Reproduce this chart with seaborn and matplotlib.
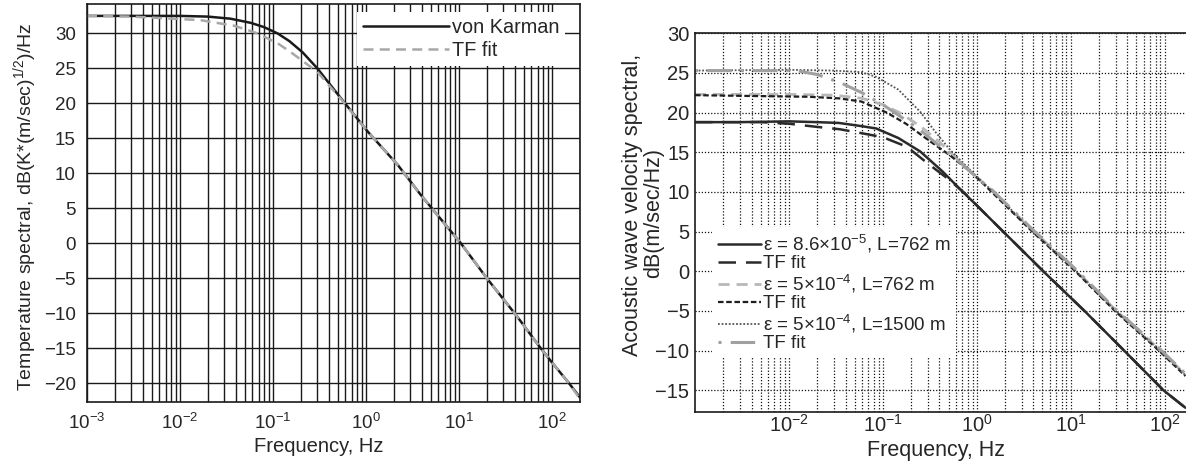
import numpy as np
import pandas as pd
import matplotlib
matplotlib.use("Agg")
import matplotlib.pyplot as plt
from matplotlib.ticker import LogLocator, FixedLocator, NullFormatter, LogFormatterSciNotation
import seaborn as sns

# ---------------- data ----------------
# Left panel: temperature spectrum
freq_left_vk = [0.001, 0.003, 0.01, 0.02, 0.035, 0.058, 0.08, 0.112, 0.15, 0.208, 0.3,
                0.54, 1.04, 2.2, 3.9, 10.5, 20, 42, 74, 100, 151, 200]
von_karman = [32.5, 32.5, 32.5, 32.4, 32.1, 31.5, 30.9, 30.0, 28.9, 27.3, 25.0,
              20.7, 16.0, 11.2, 6.9, 0.0, -5.0, -10.4, -14.8, -17.0, -19.9, -22.0]
freq_left_tf = [0.001, 0.003, 0.006, 0.0165, 0.038, 0.053, 0.068, 0.112, 0.156, 0.255, 0.3,
                0.54, 1.04, 2.2, 3.9, 10.5, 20, 42, 74, 100, 151, 200]
tf_fit_left = [32.5, 32.4, 32.2, 31.9, 31.1, 30.5, 30.0, 28.6, 27.3, 25.2, 24.5,
               20.6, 16.0, 11.2, 6.9, 0.0, -5.0, -10.4, -14.8, -17.0, -19.9, -22.2]

# Right panel: acoustic wave velocity spectra
freq_r1 = [0.001, 0.003, 0.01, 0.02, 0.034, 0.059, 0.085, 0.146, 0.25, 0.43, 0.71, 1.0, 1.8, 5.1, 14, 37, 97, 166]
eps86_L762 = [18.8, 18.8, 18.9, 18.8, 18.7, 18.3, 18.0, 16.8, 15.1, 12.6, 10.0, 8.3, 5.3, 0.0, -5.0, -10.0, -15.0, -17.2]
freq_r2 = [0.001, 0.005, 0.01, 0.02, 0.035, 0.06, 0.1, 0.18, 0.3, 0.5, 0.75, 1.0, 1.8, 5.1, 14, 37, 97, 166]
tf_eps86_L762 = [18.8, 18.8, 18.6, 18.2, 17.9, 17.4, 16.9, 15.7, 13.6, 11.6, 9.8, 8.3, 5.3, 0.0, -5.0, -10.0, -15.0, -17.2]
freq_r3 = [0.001, 0.01, 0.03, 0.06, 0.1, 0.15, 0.25, 0.4, 0.6, 1.0, 1.44, 3.9, 11.2, 29.5, 87, 166]
eps5_L762 = [22.3, 22.3, 22.2, 21.8, 21.0, 20.0, 18.3, 16.3, 14.3, 11.8, 10.2, 5.2, 0.2, -4.8, -9.8, -13.0]
freq_r4 = [0.001, 0.016, 0.034, 0.059, 0.11, 0.176, 0.3, 0.52, 0.91, 1.44, 3.9, 11.2, 29.5, 87, 166]
tf_eps5_L762 = [22.2, 22.0, 21.8, 21.4, 20.0, 18.6, 16.6, 14.6, 12.3, 10.0, 5.0, 0.0, -5.0, -10.0, -13.2]
freq_r5 = [0.001, 0.01, 0.03, 0.059, 0.085, 0.146, 0.25, 0.36, 0.52, 0.91, 1.44, 3.9, 11.2, 29.5, 87, 166]
eps5_L1500 = [25.3, 25.4, 25.3, 25.1, 24.5, 22.9, 20.1, 17.6, 15.3, 12.4, 10.2, 5.1, 0.1, -4.9, -9.9, -13.1]
freq_r6 = [0.001, 0.012, 0.02, 0.035, 0.06, 0.1, 0.15, 0.25, 0.4, 0.6, 1.0, 1.44, 3.9, 11.2, 29.5, 87, 166]
tf_eps5_L1500 = [25.3, 25.3, 24.8, 23.8, 22.5, 21.0, 19.6, 17.8, 15.8, 14.2, 11.8, 10.3, 5.3, 0.3, -4.7, -9.7, -12.9]

left_yticks = [-20, -15, -10, -5, 0, 5, 10, 15, 20, 25, 30]
right_yticks = [-15, -10, -5, 0, 5, 10, 15, 20, 25, 30]
left_xticks = [1e-3, 1e-2, 1e-1, 1e0, 1e1, 1e2]
right_xticks = [1e-2, 1e-1, 1e0, 1e1, 1e2]

labels_left = ["von Karman", "TF fit"]
labels_right = [r"ε = 8.6×$10^{-5}$, L=762 m", "TF fit",
                r"ε = 5×$10^{-4}$, L=762 m", "TF fit",
                r"ε = 5×$10^{-4}$, L=1500 m", "TF fit"]
right_ylabel_lines = ["Acoustic wave velocity spectral,", "dB(m/sec/Hz)"]

# ---------------- style ----------------
sns.set_theme(style="white")
plt.rcParams["font.family"] = ["Liberation Sans", "DejaVu Sans"]
plt.rcParams["mathtext.fontset"] = "custom"
plt.rcParams["mathtext.rm"] = "Liberation Sans"
plt.rcParams["mathtext.it"] = "Liberation Sans:italic"
plt.rcParams["mathtext.bf"] = "Liberation Sans:bold"
plt.rcParams["axes.unicode_minus"] = True

W, H = 1186, 465
fig = plt.figure(figsize=(W / 100, H / 100), dpi=100)

def px_axes(l, r, t, b):
    return fig.add_axes([l / W, (H - b) / H, (r - l) / W, (b - t) / H])

axL = px_axes(87, 580, 4, 401.7)
axR = px_axes(695, 1193, 33.3, 411.7)

def draw(ax, x, y, color, lw, ls, label):
    df = pd.DataFrame({"f": x, "v": y})
    sns.lineplot(data=df, x="f", y="v", ax=ax, color=color, linewidth=lw,
                 label=label, sort=True, estimator=None)
    line = ax.lines[-1]
    line.set_linestyle(ls)
    return line

# ---------------- left panel ----------------
axL.set_xscale("log")
l1 = draw(axL, freq_left_vk, von_karman, "#1a1a1a", 1.8, "-", labels_left[0])
l2 = draw(axL, freq_left_tf, tf_fit_left, "#a8a8a8", 1.8, (0, (4, 2.5)), labels_left[1])
axL.set_xlim(1e-3, 200)
axL.set_ylim(-22.6, 34.2)
axL.xaxis.set_major_locator(FixedLocator(left_xticks))
axL.xaxis.set_major_formatter(LogFormatterSciNotation())
axL.xaxis.set_minor_locator(LogLocator(base=10, subs=np.arange(2, 10), numticks=100))
axL.xaxis.set_minor_formatter(NullFormatter())
axL.yaxis.set_major_locator(FixedLocator(left_yticks))
axL.grid(True, which="both", axis="x", color="#1a1a1a", linewidth=1.0, linestyle="-")
axL.grid(True, which="major", axis="y", color="#1a1a1a", linewidth=1.0, linestyle="-")
axL.tick_params(axis="both", which="both", length=0, labelsize=13.5)
axL.tick_params(axis="y", pad=8)
axL.tick_params(axis="x", pad=8)
for s in axL.spines.values():
    s.set_color("#1a1a1a")
    s.set_linewidth(1.2)
axL.set_xlabel("Frequency, Hz", fontsize=14.5)
axL.set_ylabel(r"Temperature spectral, dB(K*(m/sec)$^{1/2}$)/Hz", fontsize=14)
axL.xaxis.set_label_coords(0.47, -0.112)
axL.xaxis.label.set_va("center")
axL.yaxis.set_label_coords(-0.126, 0.49)
axL.yaxis.label.set_va("center")
legL = axL.legend(handles=[l1, l2], labels=labels_left, loc="upper left",
                  bbox_to_anchor=(0.548, 0.98), borderaxespad=0, frameon=True,
                  fancybox=False, edgecolor="none", facecolor="white", framealpha=1,
                  fontsize=14.3, handlelength=4.3, handletextpad=0.15, labelspacing=0.22,
                  borderpad=0.3)

# ---------------- right panel ----------------
axR.set_xscale("log")
r1 = draw(axR, freq_r1, eps86_L762, "#2a2a2a", 1.8, "-", labels_right[0])
r2 = draw(axR, freq_r2, tf_eps86_L762, "#2a2a2a", 1.8, (0, (7, 4)), labels_right[1])
r3 = draw(axR, freq_r3, eps5_L762, "#b8b8b8", 2.0, (0, (4, 2.5)), labels_right[2])
r4 = draw(axR, freq_r4, tf_eps5_L762, "#1e1e1e", 1.6, (0, (2.5, 1.2)), labels_right[3])
r5 = draw(axR, freq_r5, eps5_L1500, "#555555", 1.3, (0, (1, 1)), labels_right[4])
r6 = draw(axR, freq_r6, tf_eps5_L1500, "#a0a0a0", 2.2, (0, (1, 3, 8, 3)), labels_right[5])
axR.set_xlim(1e-3, 200)
axR.set_ylim(-17.7, 30)
axR.xaxis.set_major_locator(FixedLocator(right_xticks))
axR.xaxis.set_major_formatter(LogFormatterSciNotation())
axR.xaxis.set_minor_locator(LogLocator(base=10, subs=np.arange(2, 10), numticks=100))
axR.xaxis.set_minor_formatter(NullFormatter())
axR.yaxis.set_major_locator(FixedLocator(right_yticks))
axR.grid(True, which="both", axis="x", color="#111111", linewidth=0.9, linestyle=(0, (1, 1.5)))
axR.grid(True, which="major", axis="y", color="#111111", linewidth=0.9, linestyle=(0, (1, 1.5)))
axR.tick_params(axis="both", which="both", length=0, labelsize=14.5)
axR.tick_params(axis="y", pad=4)
axR.tick_params(axis="x", pad=1.5)
for s in axR.spines.values():
    s.set_color("#1a1a1a")
    s.set_linewidth(1.2)
axR.set_xlabel("Frequency, Hz", fontsize=15.5)
axR.xaxis.set_label_coords(0.484, -0.102)
axR.xaxis.label.set_va("center")
axR.set_ylabel(right_ylabel_lines[0], fontsize=15.5)
axR.yaxis.set_label_coords(-0.1265, 0.546)
axR.yaxis.label.set_va("center")
axR.text(-0.0823, 0.525, right_ylabel_lines[1], transform=axR.transAxes, rotation=90,
         ha="center", va="center", fontsize=15.5)
legR = axR.legend(handles=[r1, r2, r3, r4, r5, r6], labels=labels_right, loc="upper left",
                  bbox_to_anchor=(0.034, 0.488), borderaxespad=0, frameon=True,
                  fancybox=False, edgecolor="none", facecolor="white", framealpha=1,
                  fontsize=13.5, handlelength=2.3, handletextpad=0.1, labelspacing=0.02,
                  borderpad=0.3)

fig.savefig("out.png", dpi=100)
